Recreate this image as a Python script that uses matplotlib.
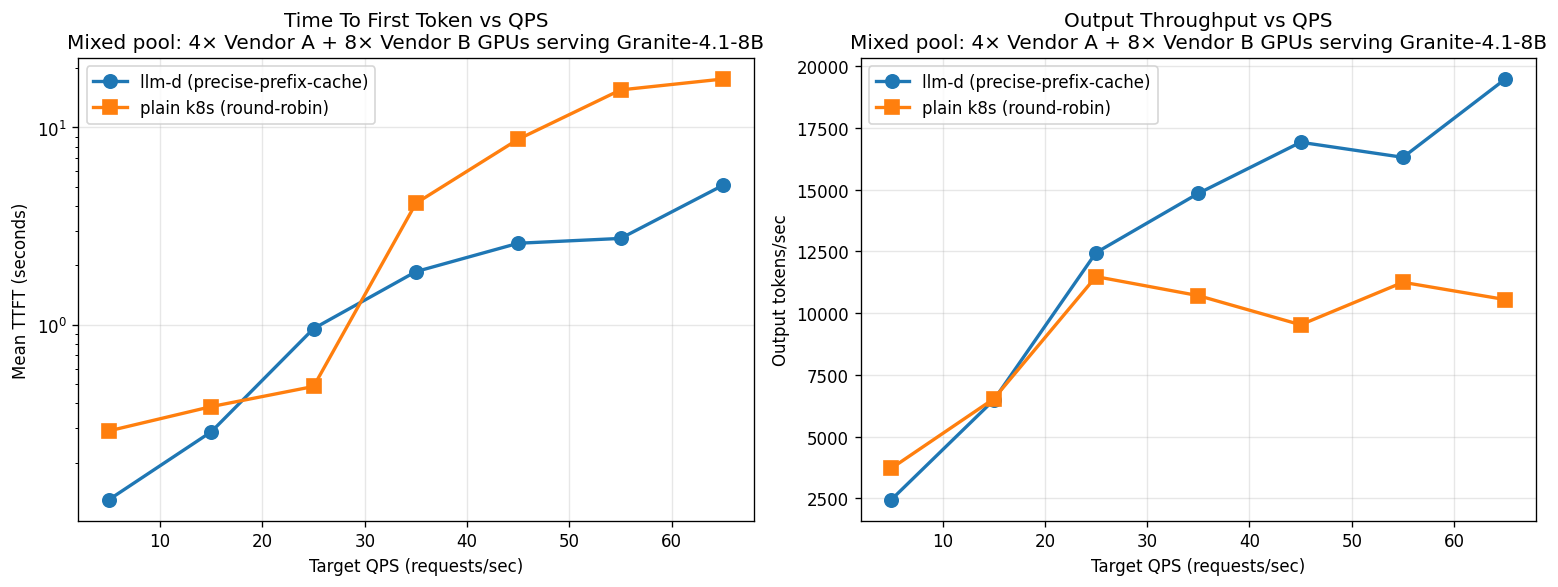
import numpy as np
import matplotlib
matplotlib.use('Agg')
import matplotlib.pyplot as plt

# Data
qps = [5, 15, 25, 35, 45, 55, 65]
ttft_llmd = [0.13, 0.287, 0.957, 1.86, 2.59, 2.74, 5.09]
ttft_k8s = [0.29, 0.385, 0.487, 4.13, 8.72, 15.5, 17.6]
tput_llmd = [2450, 6480, 12450, 14850, 16920, 16310, 19480]
tput_k8s = [3720, 6530, 11480, 10710, 9530, 11250, 10550]

subtitle = 'Mixed pool: 4\u00d7 Vendor A + 8\u00d7 Vendor B GPUs serving Granite-4.1-8B'

fig, (ax1, ax2) = plt.subplots(1, 2, figsize=(13, 5), dpi=120)

# TTFT
ax1.plot(qps, ttft_llmd, marker='o', linewidth=2, markersize=8, label='llm-d (precise-prefix-cache)')
ax1.plot(qps, ttft_k8s, marker='s', linewidth=2, markersize=8, label='plain k8s (round-robin)')
ax1.set_yscale('log')
ax1.set_xlabel('Target QPS (requests/sec)')
ax1.set_ylabel('Mean TTFT (seconds)')
ax1.set_title('Time To First Token vs QPS\n' + subtitle)
ax1.grid(True, alpha=0.3)
ax1.legend(loc='upper left')

# Throughput
ax2.plot(qps, tput_llmd, marker='o', linewidth=2, markersize=8, label='llm-d (precise-prefix-cache)')
ax2.plot(qps, tput_k8s, marker='s', linewidth=2, markersize=8, label='plain k8s (round-robin)')
ax2.set_xlabel('Target QPS (requests/sec)')
ax2.set_ylabel('Output tokens/sec')
ax2.set_title('Output Throughput vs QPS\n' + subtitle)
ax2.grid(True, alpha=0.3)
ax2.legend(loc='upper left')

plt.tight_layout()
plt.savefig('out.png', bbox_inches='tight')
